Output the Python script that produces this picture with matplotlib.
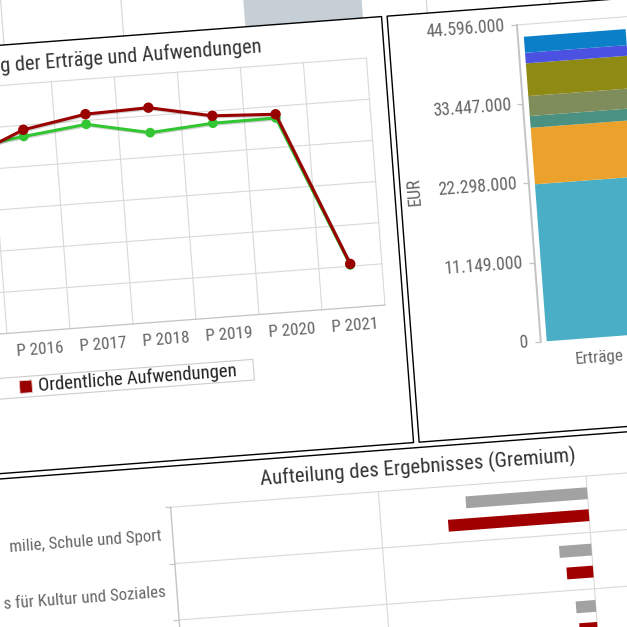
"""Tilted dashboard crop: Erträge/Aufwendungen line chart, stacked column, Gremium bars."""

import os

import matplotlib

matplotlib.use("Agg")

import matplotlib.pyplot as plt
import matplotlib.patheffects as pe
from matplotlib import font_manager
from matplotlib.font_manager import FontProperties
from matplotlib.lines import Line2D
from matplotlib.markers import TICKLEFT
from matplotlib.patches import Rectangle
from matplotlib.transforms import Affine2D, offset_copy

SIZE_PX = 627
DPI = 100
TILT_DEG = 4.3

# line chart (Entwicklung der Erträge und Aufwendungen)
years = ["P 2015", "P 2016", "P 2017", "P 2018", "P 2019", "P 2020", "P 2021"]
ertraege_eur = [36.24e6, 37.82e6, 39.26e6, 36.72e6, 37.63e6, 37.73e6, 8.26e6]
aufwendungen_eur = [33.98e6, 39.12e6, 41.23e6, 41.57e6, 39.07e6, 38.45e6, 8.45e6]
line_yticks = [0, 8e6, 16e6, 24e6, 32e6, 40e6, 48e6]

# stacked column, bottom segment first
column_categories = ["Erträge"]
column_segments_eur = [22.10e6, 7.95e6, 1.66e6, 2.81e6, 4.60e6, 1.49e6, 2.26e6]
segment_colors = ["#4aafc6", "#eba22c", "#4b9181", "#7e8d5b", "#8f8a13", "#4b52e2", "#0b80c8"]
column_max_eur = 44_596_000
column_yticks = [column_max_eur * k / 4 for k in range(5)]

# Aufteilung des Ergebnisses (Gremium)
gremium_labels = ["milie, Schule und Sport", "s für Kultur und Soziales"]
ergebnis_grau_eur = [-585e3, -155e3, -95e3]
ergebnis_rot_eur = [-677e3, -127e3, -86e3]
gremium_xticks = [-2e6, -1e6, 0, 1e6]

RED = "#990000"
GREEN = "#33c633"
GRID = "#d9d9d9"
AXIS = "#c4c4c4"
LABEL = "#666666"


def pick_narrow_font():
    # the dashboard font is a narrow sans; use a condensed face when one is installed
    skip = ("bold", "italic", "oblique", "light", "thin", "black", "medium", "extracondensed", "ultracondensed")
    found = {}
    for entry in font_manager.fontManager.ttflist:
        base = os.path.basename(entry.fname).lower()
        if ("condensed" in base or "narrow" in base) and not any(word in base for word in skip):
            found[base] = entry.fname
    for key in ("robotocondensed-regular", "roboto_condensed-regular", "notosans-semicondensed.",
                "notosans-condensed.", "dejavusanscondensed.", "liberationsansnarrow-regular"):
        for base, path in sorted(found.items()):
            if base.startswith(key):
                return FontProperties(fname=path)
    if found:
        return FontProperties(fname=sorted(found.values())[0])
    return FontProperties(family=["Lato", "DejaVu Sans"])


FONT = pick_narrow_font()

fig = plt.figure(figsize=(SIZE_PX / DPI, SIZE_PX / DPI), dpi=DPI)
fig.patch.set_facecolor("white")
renderer = fig.canvas.get_renderer()
ROT = Affine2D().rotate_deg_around(0.5, 0.5, TILT_DEG)
PIX = Affine2D().scale(1 / SIZE_PX) + ROT + fig.transFigure


def tilted(ax, dx=0.0, dy=0.0):
    base = offset_copy(ax.transData, fig=fig, x=dx * 72 / DPI, y=dy * 72 / DPI, units="points")
    return base + fig.transFigure.inverted() + ROT + fig.transFigure


def fit_size(text, width_px):
    probe = fig.text(0, 0, text, fontproperties=FONT, fontsize=10)
    width = probe.get_window_extent(renderer).width
    probe.remove()
    return 10 * width_px / width


def panel_axes(x0, y0, x1, y1, xlim, ylim):
    ax = fig.add_axes([x0 / SIZE_PX, y0 / SIZE_PX, (x1 - x0) / SIZE_PX, (y1 - y0) / SIZE_PX])
    ax.set_axis_off()
    ax.set_xlim(*xlim)
    ax.set_ylim(*ylim)
    return ax


def on_canvas(trans, x, y):
    px, py = trans.transform((x, y))
    return 0 <= px <= fig.bbox.width and 0 <= py <= fig.bbox.height


def seg(x, y, color, lw=0.8, trans=PIX, z=2):
    fig.add_artist(Line2D(x, y, transform=trans, color=color, linewidth=lw, zorder=z))


def label(target, x, y, s, trans, size, color=LABEL, ha="center", va="center", rot=0.0):
    target.text(x, y, s, transform=trans, ha=ha, va=va, rotation=TILT_DEG + rot,
                rotation_mode="anchor", color=color, fontproperties=FONT, fontsize=size)


def eur(value):
    return f"{value:,.0f}".replace(",", ".")


TITLE_SIZE = fit_size("Aufteilung des Ergebnisses (Gremium)", 314)
LINE_TITLE_SIZE = min(TITLE_SIZE, fit_size("g der Erträge und Aufwendungen", 260))
TICK_SIZE = fit_size("44.596.000", 78)
YEAR_SIZE = fit_size("P 2016", 47)
LEGEND_SIZE = fit_size("Ordentliche Aufwendungen", 197)
CAT_SIZE = fit_size("s für Kultur und Soziales", 162)

# top strip of the page
fig.add_artist(Rectangle((267, 604.5), 118, 60, transform=PIX, facecolor="#c6cfd6", edgecolor="none", zorder=1))
for x in (25, 145, 449.5, 572.7):
    seg([x, x], [604.5, 665], "#d4d4d4")

# panel frames
seg([-200, 403.6, 403.6, -200], [604.5, 604.5, 177.3, 177.3], "black", lw=1.0)
seg([900, 409.2, 409.2, 900], [604.5, 604.5, 177.3, 177.3], "black", lw=1.0)
seg([-200, 900], [172, 172], "black", lw=1.0)

# line chart
ax1 = panel_axes(-56.9, 316.6, 385.4, 564.3, (-0.5, len(years) - 0.5), (0, line_yticks[-1]))
t1 = tilted(ax1)
for y in line_yticks[1:]:
    ax1.plot([-0.5, len(years) - 0.5], [y, y], color=GRID, lw=0.8, transform=t1, clip_on=False, zorder=1)
for k in range(len(years) + 1):
    ax1.plot([k - 0.5, k - 0.5], [0, line_yticks[-1]], color=GRID, lw=0.8, transform=t1, clip_on=False, zorder=1)
ax1.plot([-0.5, len(years) - 0.5], [0, 0], color=AXIS, lw=0.9, transform=t1, clip_on=False, zorder=1)

shadow = [pe.SimpleLineShadow(offset=(0.8, -0.8), shadow_color="black", alpha=0.18), pe.Normal()]
xs = list(range(len(years)))
ax1.plot(xs, ertraege_eur, color=GREEN, lw=2.2, marker="o", ms=7, mew=0,
         transform=t1, clip_on=False, zorder=3, path_effects=shadow)
ax1.plot(xs, aufwendungen_eur, color=RED, lw=2.2, marker="o", ms=7.5, mew=0,
         transform=t1, clip_on=False, zorder=4, path_effects=shadow)

t1_lab = tilted(ax1, dy=-18.4)
for i, name in enumerate(years):
    if on_canvas(t1_lab, i, 0):
        label(ax1, i, 0, name, t1_lab, YEAR_SIZE)

label(fig, 282, 577.5, "g der Erträge und Aufwendungen", PIX, LINE_TITLE_SIZE, color="#333333",
      ha="right", va="baseline")

# legend (left part is outside the crop)
fig.add_artist(Rectangle((-160, 251.6), 409.6, 20.7, transform=PIX, facecolor="none",
                         edgecolor="#cccccc", linewidth=0.8, zorder=2))
fig.add_artist(Rectangle((15.0, 255.8), 12.5, 12.5, transform=PIX, facecolor=RED,
                         edgecolor="#e8c8c8", linewidth=0.6, zorder=3))
label(fig, 33.6, 262, "Ordentliche Aufwendungen", PIX, LEGEND_SIZE, color="#222222", ha="left")

# stacked column
ax2 = panel_axes(538, 268.3, 766, 586.0, (-0.5, 1.5), (0, column_max_eur))
t2 = tilted(ax2)
bottom = 0.0
for value, color in zip(column_segments_eur, segment_colors):
    ax2.bar([0], [value], bottom=[bottom], width=0.895, color=color, linewidth=0,
            transform=t2, clip_on=False, zorder=2)
    bottom += value
ax2.plot([-0.5, 1.5], [column_max_eur] * 2, color=GRID, lw=0.8, transform=t2, clip_on=False, zorder=1)
ax2.plot([-0.5, -0.5], [0, column_max_eur], color=AXIS, lw=1.4, transform=t2, clip_on=False, zorder=3)
ax2.plot([-0.5] * len(column_yticks), column_yticks, ls="none", marker=TICKLEFT, ms=4, mew=0.9,
         color=AXIS, transform=t2, clip_on=False, zorder=3)
t2_tick = tilted(ax2, dx=-12)
for v in column_yticks:
    label(ax2, -0.5, v, eur(v), t2_tick, TICK_SIZE, ha="right")
label(ax2, -0.5, column_max_eur / 2, "EUR", tilted(ax2, dx=-114.2), TICK_SIZE, rot=90)
t2_cat = tilted(ax2, dy=-20.6)
for i, name in enumerate(column_categories):
    label(ax2, i, 0, name, t2_cat, YEAR_SIZE)

# Gremium bars
n_rows = len(ergebnis_grau_eur)
ax3 = panel_axes(156.5, 131 - 56.5 * n_rows, 781.4, 131, (gremium_xticks[0], gremium_xticks[-1]),
                 (n_rows - 0.5, -0.5))
t3 = tilted(ax3)
for k in range(n_rows + 1):
    ax3.plot([gremium_xticks[0], gremium_xticks[-1]], [k - 0.5] * 2, color=GRID, lw=0.8,
             transform=t3, clip_on=False, zorder=1)
for x in gremium_xticks[1:]:
    ax3.plot([x, x], [-0.5, n_rows - 0.5], color=GRID, lw=0.8, transform=t3, clip_on=False, zorder=1)
ax3.plot([gremium_xticks[0]] * 2, [-0.5, n_rows - 0.5], color=AXIS, lw=1.0, transform=t3,
         clip_on=False, zorder=1)
ax3.plot([gremium_xticks[0]] * (n_rows + 1), [k - 0.5 for k in range(n_rows + 1)], ls="none",
         marker=TICKLEFT, ms=4.5, mew=0.8, color=AXIS, transform=t3, clip_on=False, zorder=1)
rows = list(range(n_rows))
ax3.barh([r - 0.195 for r in rows], ergebnis_grau_eur, height=0.21, color="#a2a2a2", linewidth=0,
         transform=t3, clip_on=False, zorder=2)
ax3.barh([r + 0.195 for r in rows], ergebnis_rot_eur, height=0.21, color="#a00000", linewidth=0,
         transform=t3, clip_on=False, zorder=2)
t3_lab = tilted(ax3, dx=-11.5)
for r, name in zip(rows, gremium_labels):
    label(ax3, gremium_xticks[0], r, name, t3_lab, CAT_SIZE, ha="right")

label(fig, 406.3, 146.5, "Aufteilung des Ergebnisses (Gremium)", PIX, TITLE_SIZE, color="#333333",
      va="baseline")

fig.savefig("out.png", dpi=DPI)
